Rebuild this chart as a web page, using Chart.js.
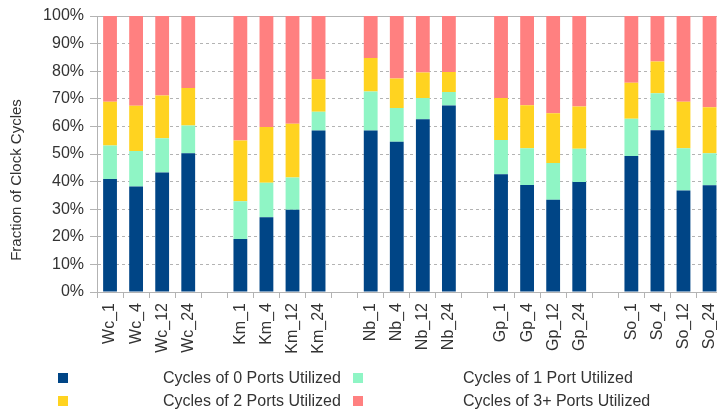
<!DOCTYPE html>
<html>
<head>
<meta charset="utf-8">
<script src="https://cdn.jsdelivr.net/npm/chart.js@4.4.1/dist/chart.umd.min.js"></script>
<style>
  html, body { margin: 0; padding: 0; background: #fff; overflow: hidden; width: 717px; height: 419px; }
  #wrap { position: relative; width: 734px; height: 419px; }
  #legend { position: absolute; left: 0; top: 0; width: 717px; height: 419px; pointer-events: none;
            font-family: "Liberation Sans", Arial, sans-serif; font-size: 16px; color: #333; }
  .box { position: absolute; width: 10px; height: 10px; }
  .txt { position: absolute; white-space: nowrap; line-height: 18px; }
  #ytitle { position: absolute; left: 16px; top: 180px; white-space: nowrap; line-height: 18px;
            transform: translate(-50%, -50%) rotate(-90deg); font-size: 15px; }
</style>
</head>
<body>
<div id="wrap">
  <canvas id="chart" width="734" height="419"></canvas>
  <div id="legend"><div id="ytitle">Fraction of Clock Cycles</div></div>
</div>
<script>
const categories = ['Wc_1', 'Wc_4', 'Wc_12', 'Wc_24', '',
                    'Km_1', 'Km_4', 'Km_12', 'Km_24', '',
                    'Nb_1', 'Nb_4', 'Nb_12', 'Nb_24', '',
                    'Gp_1', 'Gp_4', 'Gp_12', 'Gp_24', '',
                    'So_1', 'So_4', 'So_12', 'So_24']

const ports0 = [40.9, 38.2, 43.3, 50.3, null,
                19.2, 27.1, 29.8, 58.5, null,
                58.5, 54.4, 62.6, 67.6, null,
                42.7, 38.8, 33.4, 39.9, null,
                49.3, 58.6, 36.8, 38.7]
const ports1 = [12.2, 12.9, 12.4, 10.0, null,
                13.7, 12.5, 11.7, 6.8, null,
                14.1, 12.3, 7.7, 4.9, null,
                12.4, 13.3, 13.3, 12.0, null,
                13.5, 13.4, 15.3, 11.6]
const ports2 = [15.8, 16.4, 15.5, 13.6, null,
                22.0, 20.2, 19.5, 11.8, null,
                12.2, 10.7, 9.2, 7.2, null,
                15.2, 15.6, 18.1, 15.3, null,
                13.0, 11.5, 16.8, 16.6]
const ports3 = [31.1, 32.5, 28.8, 26.1, null,
                45.1, 40.2, 39.0, 22.9, null,
                15.2, 22.6, 20.5, 20.3, null,
                29.7, 32.3, 35.2, 32.8, null,
                24.2, 16.5, 31.1, 33.1]

const yTicks = [0, 10, 20, 30, 40, 50, 60, 70, 80, 90, 100]

const seriesNames = ['Cycles of 0 Ports Utilized', 'Cycles of 1 Port Utilized',
                     'Cycles of 2 Ports Utilized', 'Cycles of 3+ Ports Utilized']
const seriesColors = ['#004586', '#8ff5c5', '#ffd320', '#ff8080']
const seriesData = [ports0, ports1, ports2, ports3]

const FONT = '"Liberation Sans", Arial, sans-serif'
const GRID = '#b3b3b3'

const datasets = seriesData.map((d, i) => ({
    label: seriesNames[i],
    data: d,
    backgroundColor: seriesColors[i],
    borderWidth: 0,
    categoryPercentage: 1,
    barPercentage: 0.53
}))

const config = {
    type: 'bar',
    data: { labels: categories, datasets },
    options: {
        responsive: false,
        animation: false,
        layout: { padding: { left: 4, right: 4, top: 16, bottom: 0 } },
        plugins: {
            legend: { display: false },
            tooltip: { enabled: false }
        },
        scales: {
            x: {
                stacked: true,
                grid: { drawOnChartArea: false, offset: true, color: GRID, tickLength: 6 },
                border: { color: GRID },
                ticks: {
                    minRotation: 90, maxRotation: 90, autoSkip: false,
                    padding: 5, color: '#333',
                    font: { family: FONT, size: 16 }
                },
                afterFit: (s) => { s.height = 127 }
            },
            xTop: {
                position: 'top',
                display: true,
                grid: { drawOnChartArea: false, drawTicks: false },
                border: { display: true, color: GRID },
                ticks: { display: false },
                afterFit: (s) => { s.height = 0 }
            },
            y: {
                stacked: true,
                min: 0, max: 100,
                afterBuildTicks: (s) => { s.ticks = yTicks.map(v => ({ value: v })) },
                grid: { color: GRID, tickLength: 7 },
                border: { color: GRID, dash: [3, 3] },
                ticks: {
                    padding: 6, color: '#333',
                    font: { family: FONT, size: 16 },
                    callback: (v) => v + '%'
                },
                afterFit: (s) => { s.width = 93 }
            }
        }
    }
}

const chart = new Chart(document.getElementById('chart').getContext('2d'), config)

// legend laid out like the original: box column, text column, box column, text column
const legend = document.getElementById('legend')
const rows = [378, 401]
const boxX = [58, 353]
const textX = [163, 463]
seriesNames.forEach((name, i) => {
    const row = Math.floor(i / 2), col = i % 2
    const b = document.createElement('div')
    b.className = 'box'
    b.style.left = boxX[col] + 'px'
    b.style.top = (rows[row] - 5) + 'px'
    b.style.background = chart.data.datasets[i].backgroundColor
    legend.appendChild(b)
    const t = document.createElement('div')
    t.className = 'txt'
    t.style.left = textX[col] + 'px'
    t.style.top = (rows[row] - 9) + 'px'
    t.textContent = chart.data.datasets[i].label
    legend.appendChild(t)
})
</script>
</body>
</html>
